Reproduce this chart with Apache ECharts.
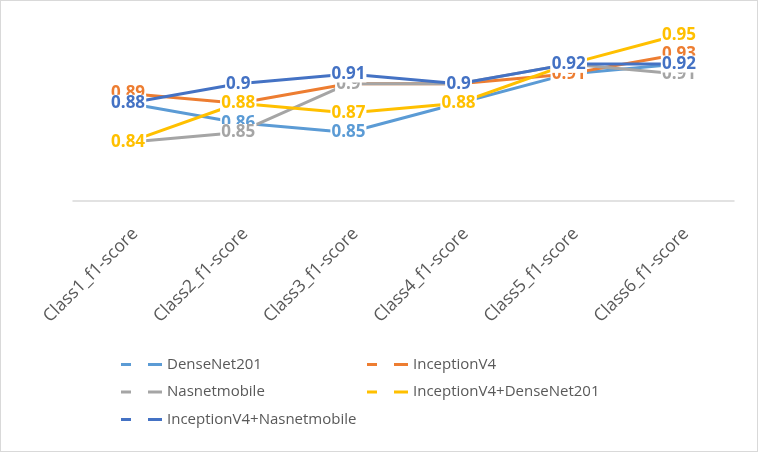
<!DOCTYPE html>
<html>
<head>
    <meta charset="utf-8">
    <title>f1-score</title>
    <script src="https://cdn.jsdelivr.net/npm/echarts@6/dist/echarts.min.js"></script>
    <style>
        html, body { margin: 0; padding: 0; background: #fff; }
        #chart1 { width: 758px; height: 452px; box-sizing: border-box; border: 1.5px solid #d9d9d9; }
    </style>
</head>
<body>
<div id="chart1"></div>
<script type="text/javascript">
    // 类别
    var classes = ['Class1_f1-score', 'Class2_f1-score', 'Class3_f1-score', 'Class4_f1-score', 'Class5_f1-score', 'Class6_f1-score'];

    // 各模型 f1-score
    var denseNet201 = [0.88, 0.86, 0.85, 0.88, 0.91, 0.92];
    var inceptionV4 = [0.89, 0.88, 0.90, 0.90, 0.91, 0.93];
    var nasnetMobile = [0.84, 0.85, 0.90, 0.90, 0.92, 0.91];
    var incDense = [0.84, 0.88, 0.87, 0.88, 0.92, 0.95];
    var incNasnet = [0.88, 0.90, 0.91, 0.90, 0.92, 0.92];

    var names = ['DenseNet201', 'InceptionV4', 'Nasnetmobile', 'InceptionV4+DenseNet201', 'InceptionV4+Nasnetmobile'];
    var colors = ['#5b9bd5', '#ed7d31', '#a5a5a5', '#ffc000', '#4472c4'];
    var allData = [denseNet201, inceptionV4, nasnetMobile, incDense, incNasnet];

    var font = '"Open Sans", "Noto Sans", sans-serif';
    var legendIcon = 'path://M0,0h10v3h-10z M27,0h14v3h-14z';

    var myChart1 = echarts.init(document.getElementById('chart1'));

    var series = allData.map(function (d, i) {
        return {
            name: names[i],
            type: 'line',
            data: d,
            symbol: 'circle',
            symbolSize: 1,
            color: colors[i],
            lineStyle: { width: 3, color: colors[i] },
            itemStyle: { color: colors[i] },
            label: {
                show: true,
                position: 'inside',
                color: colors[i],
                fontFamily: font,
                fontWeight: 'bold',
                fontSize: 17,
                backgroundColor: '#fff',
                padding: [0, 1],
                formatter: function (p) { return String(+p.value.toFixed(2)); }
            },
            emphasis: { disabled: true },
            animation: false
        };
    });

    var legendText = { color: '#595959', fontFamily: font, fontSize: 15 };

    myChart1.setOption({
        animation: false,
        // 第二个 grid 只用来放斜着的类别文字（比数据点稍微右移）
        grid: [
            { left: 72, right: 23, top: 24, bottom: 250 },
            { left: 79, right: 16, top: 24, bottom: 250 }
        ],
        legend: [{
            data: [names[0], names[2], names[4]],
            orient: 'vertical',
            left: 115, top: 351,
            icon: legendIcon, itemWidth: 41, itemHeight: 3, itemGap: 12.5,
            textStyle: legendText
        }, {
            data: [names[1], names[3]],
            orient: 'vertical',
            left: 361, top: 351,
            icon: legendIcon, itemWidth: 41, itemHeight: 3, itemGap: 12.5,
            textStyle: legendText
        }],
        xAxis: [{
            type: 'category',
            gridIndex: 0,
            data: classes,
            boundaryGap: true,
            axisLine: { lineStyle: { color: '#d9d9d9', width: 1.5 } },
            axisTick: { show: false },
            axisLabel: { show: false }
        }, {
            type: 'category',
            gridIndex: 1,
            data: classes,
            boundaryGap: true,
            axisLine: { show: false },
            axisTick: { show: false },
            axisLabel: {
                rotate: 45,
                margin: 30,
                color: '#595959',
                fontFamily: font,
                fontSize: 17.5
            }
        }],
        yAxis: [{
            type: 'value',
            gridIndex: 0,
            min: 0.78,
            max: 0.96,
            show: false
        }, {
            type: 'value',
            gridIndex: 1,
            show: false
        }],
        series: series
    });
</script>
</body>
</html>
